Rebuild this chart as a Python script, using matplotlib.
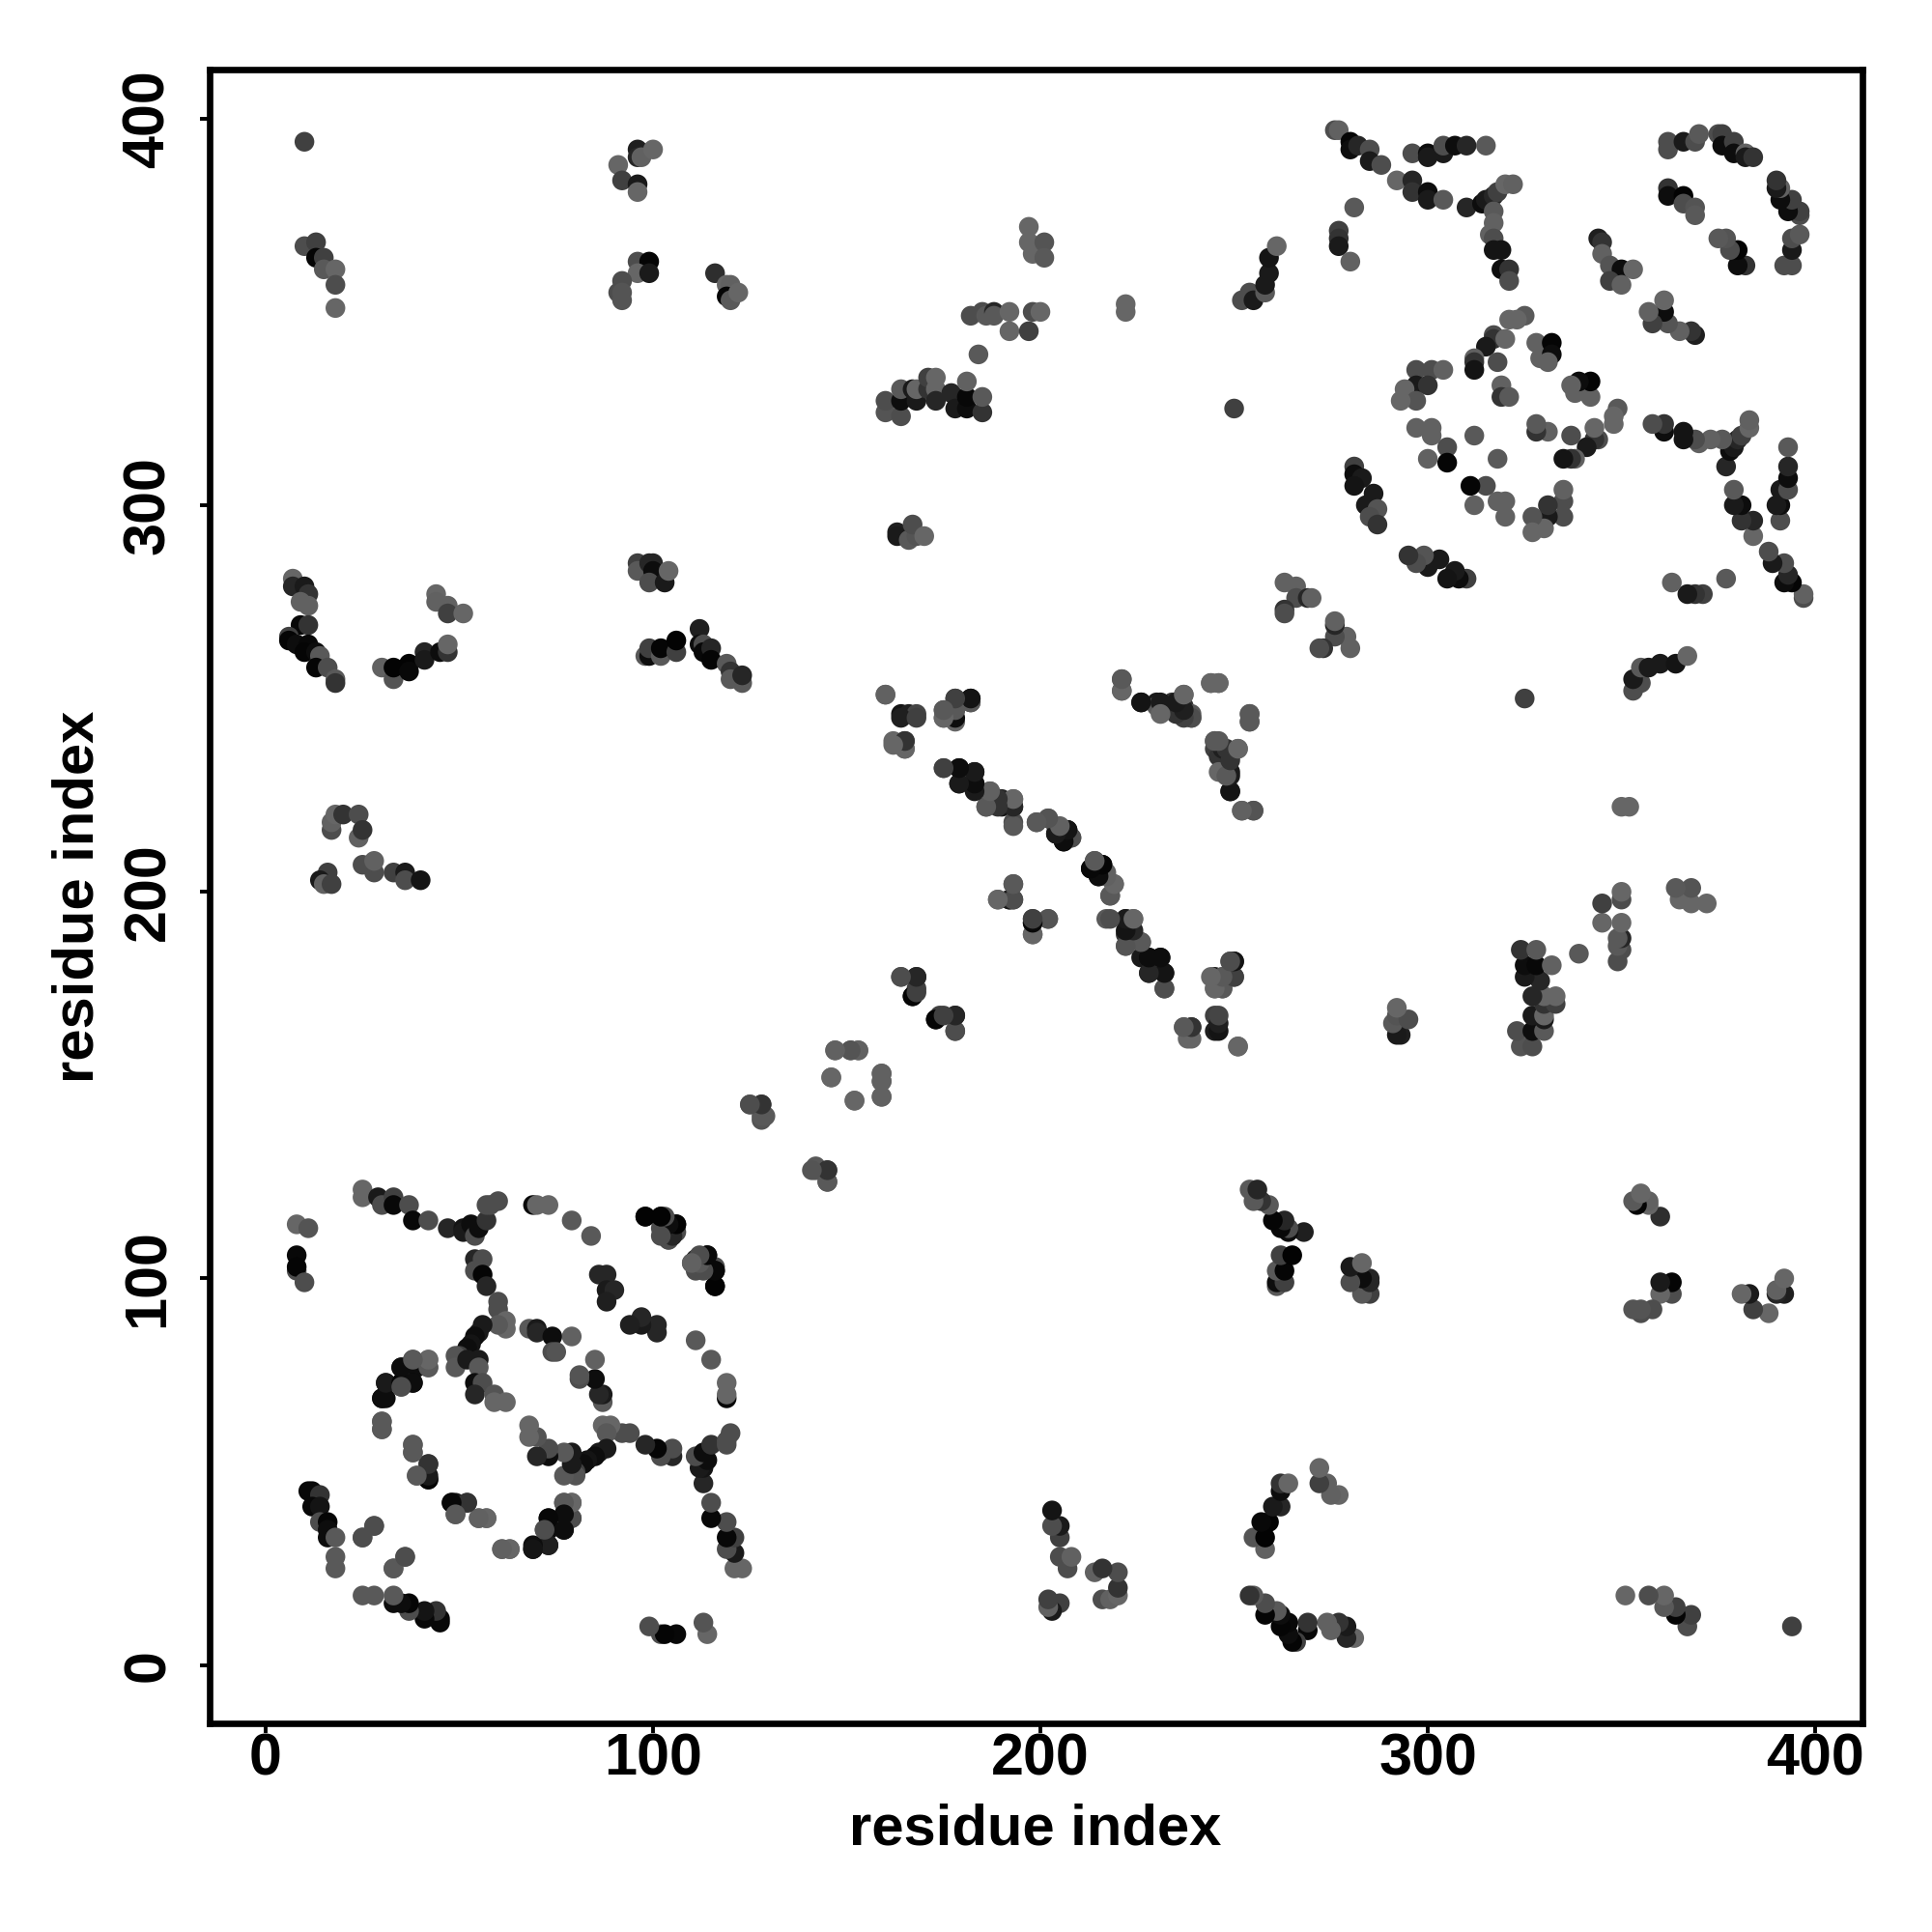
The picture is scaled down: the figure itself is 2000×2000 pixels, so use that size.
#!/usr/bin/env python3
import matplotlib
matplotlib.use("Agg")
import matplotlib.pyplot as plt

plt.rcParams["font.family"] = ["Liberation Sans", "DejaVu Sans"]
plt.rcParams["font.weight"] = "bold"

# contacts as (residue i, residue j, grey level), i < j.
# the map is symmetric so the mirrored half comes from the same lists
near_a = [
    (8, 114, .4), (11, 113, .33), (8, 102, .3), (8, 106, .03), (8, 103, .02), (10, 99, .3),
    (25, 123, .4), (25, 121, .4), (29, 121, .1), (30, 119, .3), (33, 121, .25), (33, 119, .03),
    (37, 119, .3), (38, 115, .03), (42, 115, .3), (47, 113, .15), (51, 113, .08), (51, 112, .1),
    (53, 114, .05), (54, 111, .3), (55, 113, .05), (57, 115, .2), (57, 119, .3), (58, 119, .3),
    (60, 120, .3), (69, 119, .03), (70, 119, .4), (73, 119, .4), (79, 115, .35), (84, 111, .35),
    (98, 116, .01), (102, 116, .03), (102, 113, .3), (104, 112, .35), (106, 114, .03), (106, 112, .3),
    (104, 110, .38), (110, 104, .3), (111, 105, .15), (114, 106, .01), (114, 104, .05), (111, 102, .3),
    (116, 103, .3), (116, 102, .01), (116, 98, .01), (86, 101, .15), (88, 101, .15), (88, 97, .1),
    (90, 97, .15), (88, 94, .12),
]
near_b = [
    (54, 105, .15), (56, 105, .3), (54, 102, .3), (56, 101, .02), (57, 98, .15), (60, 94, .3),
    (60, 92, .3), (62, 89, .4), (62, 87, .4), (60, 88, .35), (56, 88, .1), (55, 86, .1), (54, 85, .05),
    (53, 83, .08), (52, 82, .05), (50, 80, .25), (49, 80, .33), (49, 77, .35), (52, 79, .1),
    (55, 79, .1), (55, 77, .35), (54, 73, .05), (56, 73, .3), (54, 70, .15), (59, 70, .33), (59, 68, .4),
    (62, 68, .4), (38, 79, .3), (42, 79, .4), (42, 77, .35), (35, 77, .05), (39, 77, .05), (35, 73, .05),
    (38, 73, .03), (31, 73, .12), (31, 69, .05), (30, 69, .08), (35, 72, .3), (30, 63, .4), (30, 61, .38),
    (38, 57, .4), (38, 55, .38), (42, 52, .2), (42, 48, .03), (39, 49, .35), (48, 42, .02), (49, 42, .1),
    (52, 42, .2), (49, 39, .35), (55, 38, .35), (57, 38, .35), (61, 30, .35), (63, 30, .35),
    (69, 30, .05), (73, 31, .1), (73, 35, .02), (73, 38, .05), (77, 35, .05), (77, 42, .35), (79, 42, .4),
    (79, 38, .35), (72, 35, .3), (68, 87, .35), (70, 87, .1), (70, 86, .15), (74, 85, .05), (74, 81, .3),
    (75, 81, .33), (79, 85, .38),
]
near_c = [
    (11, 45, .03), (12, 45, .03), (14, 44, .2), (12, 41, .03), (14, 41, .08), (14, 37, .3), (16, 37, .02),
    (16, 35, .05), (16, 33, .05), (18, 33, .35), (18, 28, .35), (18, 25, .35), (25, 33, .35), (28, 36, .3),
    (33, 25, .3), (36, 28, .3),
]
top_left = [
    (10, 394, .25), (10, 367, .3), (13, 368, .25), (13, 364, .02), (15, 364, .25), (15, 361, .35),
    (18, 361, .4), (18, 357, .3), (18, 351, .4), (91, 388, .4), (92, 384, .25), (96, 392, .12),
    (96, 390, .15), (97, 390, .38), (100, 392, .4), (96, 383, .1), (96, 381, .4), (96, 363, .3),
    (99, 363, .02), (96, 360, .4), (99, 360, .1), (92, 358, .3), (91, 355, .3), (92, 355, .33), (92, 353, .33),
    (116, 360, .18), (119, 357, .4), (120, 357, .38), (119, 354, .02), (120, 353, .35), (122, 355, .4),
]
left_mid = [
    (7, 281, .4), (7, 279, .15), (10, 279, .1), (11, 277, .2), (9, 275, .38), (11, 274, .38), (9, 269, .03),
    (11, 269, .2), (6, 266, .25), (6, 265, .02), (8, 264, .05), (11, 264, .03), (10, 262, .02), (13, 262, .05),
    (14, 261, .35), (13, 258, .02), (16, 258, .3), (18, 255, .35), (18, 254, .2),
    (30, 258, .38), (33, 255, .33), (33, 258, .01), (37, 259, .01), (37, 257, .03), (41, 262, .15), (41, 260, .1),
    (45, 262, .05), (47, 262, .2), (47, 264, .4), (44, 277, .4), (44, 275, .38), (47, 274, .38), (47, 272, .25),
    (51, 272, .4),
    (17, 216, .3), (17, 218, .38), (18, 220, .4), (20, 220, .2), (24, 220, .3), (24, 214, .38), (25, 216, .2),
    (16, 205, .25), (14, 203, .1), (15, 202, .38), (17, 202, .25), (25, 207, .3), (28, 205, .3), (28, 208, .38),
    (33, 205, .25), (36, 205, .1), (36, 203, .3), (40, 203, .08),
]
top_mid = [
    (96, 285, .25), (96, 283, .35), (99, 285, .15), (100, 285, .15), (100, 283, .05), (99, 280, .3), (103, 280, .1),
    (104, 283, .4), (98, 261, .35), (99, 261, .05), (99, 263, .25), (102, 261, .35), (102, 263, .02),
    (106, 262, .25), (106, 265, .01), (112, 268, .12), (112, 264, .05), (113, 264, .3), (113, 262, .03),
    (115, 263, .15), (115, 260, .02), (119, 259, .35), (120, 257, .2), (120, 255, .35), (123, 254, .35), (123, 256, .15),
    (197, 372, .4), (197, 368, .4), (198, 365, .4), (201, 368, .33), (201, 364, .35),
    (182, 349, .3), (185, 350, .3), (186, 349, .35), (188, 350, .15), (188, 349, .35), (192, 350, .4),
    (198, 350, .3), (200, 350, .4), (192, 345, .4), (197, 345, .25), (222, 352, .4), (222, 350, .4), (184, 339, .35),
    (160, 324, .33), (160, 327, .3), (164, 323, .3), (164, 327, .05), (164, 330, .35), (167, 330, .1), (168, 327, .1),
    (168, 330, .4), (171, 330, .2), (171, 333, .25), (173, 333, .4), (173, 330, .4), (173, 327, .15), (177, 329, .15),
    (178, 325, .1), (181, 325, .05), (181, 328, .03), (181, 332, .38), (185, 324, .2), (185, 328, .35),
    (163, 293, .12), (163, 292, .1), (166, 291, .35), (168, 292, .33), (167, 295, .3), (170, 292, .4), (250, 325, .25),
    (252, 353, .3), (254, 355, .3), (255, 353, .1), (258, 355, .35), (258, 357, .1), (259, 360, .1), (259, 364, .08),
    (261, 367, .4),
]
centre_a = [
    (160, 251, .4), (164, 246, .08), (166, 246, .12), (168, 246, .27), (175, 247, .35), (175, 245, .4), (178, 250, .25),
    (178, 247, .35), (178, 244, .4), (182, 250, .08), (182, 249, .3), (162, 239, .4), (165, 239, .2), (165, 237, .35),
    (221, 255, .33), (221, 252, .38), (226, 249, .08), (230, 249, .1), (230, 248, .35), (234, 249, .2),
    (237, 248, .2), (237, 251, .4), (239, 246, .35), (239, 245, .35), (244, 254, .35), (246, 254, .35), (254, 246, .4), (254, 244, .4),
    (245, 239, .3), (245, 237, .25), (246, 235, .2), (247, 237, .12), (249, 235, .1), (249, 231, .1), (246, 231, .4),
    (251, 237, .4), (249, 226, .08), (252, 221, .4), (255, 221, .35),
]
centre_b = [
    (175, 232, .3), (179, 232, .08), (183, 231, .05), (179, 228, .15), (183, 228, .05), (187, 226, .35),
    (186, 222, .33), (190, 224, .15), (190, 222, .08), (193, 222, .1), (193, 224, .4), (193, 218, .3),
    (199, 218, .35), (202, 219, .4), (204, 217, .38), (204, 215, .05), (207, 216, .02), (206, 213, .03), (208, 214, .35),
    (214, 208, .3), (213, 206, .05), (216, 207, .08), (215, 204, .1), (217, 205, .38), (219, 202, .33), (218, 199, .35),
    (217, 193, .35), (222, 193, .15), (224, 193, .4), (222, 189, .2), (224, 189, .2), (222, 186, .35), (226, 187, .38),
    (226, 183, .1), (228, 183, .05), (231, 183, .1), (228, 179, .1), (232, 179, .05), (232, 175, .25),
    (193, 202, .33), (189, 198, .4), (192, 198, .03), (193, 198, .25), (198, 192, .1), (198, 193, .3), (202, 193, .35), (198, 189, .4),
    (164, 178, .3), (168, 178, .15), (167, 173, .02), (168, 175, .25), (173, 167, .02), (174, 168, .25), (178, 168, .15), (178, 164, .3),
    (249, 182, .35), (250, 182, .08), (245, 178, .05), (247, 178, .35), (250, 178, .25), (245, 175, .4), (247, 175, .35),
    (245, 164, .12), (245, 168, .25), (237, 165, .4), (239, 165, .2), (238, 162, .4), (251, 160, .38),
    (147, 159, .38), (151, 159, .38), (153, 159, .38), (146, 152, .4), (159, 153, .38), (159, 151, .33), (152, 146, .4), (159, 147, .38),
    (142, 129, .35), (142, 128, .35), (145, 128, .2), (145, 125, .3), (125, 145, .35), (128, 145, .2), (128, 141, .33),
]
top_right_a = [
    (276, 397, .3), (277, 397, .38), (280, 394, .02), (280, 392, .05), (282, 393, .15), (285, 392, .3), (285, 389, .1), (288, 388, .3),
    (292, 384, .4), (296, 384, .15), (296, 381, .2), (300, 381, .05), (300, 379, .1), (304, 379, .35),
    (296, 391, .3), (300, 391, .05), (300, 390, .1), (304, 391, .1), (304, 393, .3), (307, 393, .05), (310, 393, .15), (315, 393, .35),
    (281, 377, .35), (277, 371, .25), (277, 369, .2), (277, 367, .1), (280, 363, .38),
    (310, 377, .15), (314, 378, .05), (315, 379, .1), (317, 380, .15), (318, 381, .25), (320, 383, .4), (322, 383, .38),
    (317, 376, .35), (317, 373, .38), (316, 370, .38), (317, 369, .3), (317, 366, .08), (319, 366, .08), (319, 361, .05),
    (321, 361, .2), (321, 358, .3),
    (344, 369, .12), (345, 368, .2), (345, 365, .38), (347, 362, .33), (350, 361, .05), (353, 361, .4), (347, 358, .25), (350, 357, .38),
    (362, 394, .3), (362, 392, .3), (366, 394, .1), (369, 394, .3), (370, 396, .35), (375, 396, .3), (376, 396, .25), (376, 393, .05),
    (379, 394, .25), (379, 391, .05), (382, 391, .38), (382, 390, .1), (384, 390, .2),
    (362, 382, .2), (362, 380, .05), (366, 380, .01), (366, 378, .3), (369, 377, .33), (369, 375, .35),
]
top_right_b = [
    (325, 349, .35), (323, 348, .4), (321, 348, .4), (317, 344, .3), (317, 343, .2), (320, 343, .4), (315, 341, .1), (318, 337, .3),
    (312, 338, .38), (312, 337, .2), (312, 335, .08), (328, 342, .38), (332, 342, .02), (329, 338, .38), (332, 339, .05), (331, 337, .38),
    (297, 335, .3), (301, 335, .3), (304, 335, .38), (297, 331, .1), (300, 331, .2), (294, 330, .4), (297, 327, .33), (293, 327, .4),
    (319, 331, .38), (319, 328, .2), (321, 328, .35), (297, 320, .38), (301, 320, .38), (301, 318, .38), (312, 318, .35),
    (305, 315, .3), (305, 311, .02), (300, 312, .38),
    (281, 310, .25), (281, 308, .05), (283, 307, .1), (281, 305, .08), (286, 303, .1), (284, 300, .1), (287, 299, .33), (285, 297, .3), (287, 295, .2),
    (263, 280, .38), (266, 279, .38), (266, 276, .3), (263, 273, .2), (263, 272, .3), (269, 276, .15), (270, 276, .38),
]
tick_values = [0, 100, 200, 300, 400]
axis_label = "residue index"

contacts = (near_a + near_b + near_c + top_left + left_mid + top_mid
            + centre_a + centre_b + top_right_a + top_right_b)


def main():
    xs = [c[0] for c in contacts] + [c[1] for c in contacts]
    ys = [c[1] for c in contacts] + [c[0] for c in contacts]
    greys = [str(c[2]) for c in contacts] * 2

    fig = plt.figure(figsize=(10, 10), dpi=200)
    ax = fig.add_axes([0.10825, 0.10825, 0.85575, 0.856])
    ax.scatter(xs, ys, s=54, c=greys, linewidths=0, clip_on=False)

    ax.set_xlim(-14.6, 412.2)
    ax.set_ylim(-14.94, 412.8)
    for spine in ax.spines.values():
        spine.set_linewidth(2.4)

    ax.set_xticks(tick_values)
    ax.set_yticks(tick_values)
    ax.tick_params(axis="x", length=3.6, width=1.4, labelsize=22, pad=0)
    ax.tick_params(axis="y", length=3.6, width=1.4, labelsize=22, pad=8.5)
    for lab in ax.get_yticklabels():
        lab.set_rotation(90)
        lab.set_va("center")

    fig.text(0.536, 0.0455, axis_label, ha="center", va="baseline", fontsize=21.5)
    fig.text(0.0545, 0.536, axis_label, ha="right", va="center", rotation=90, fontsize=21.5)

    fig.savefig("out.png", dpi=200)
    plt.close(fig)


if __name__ == "__main__":
    main()
